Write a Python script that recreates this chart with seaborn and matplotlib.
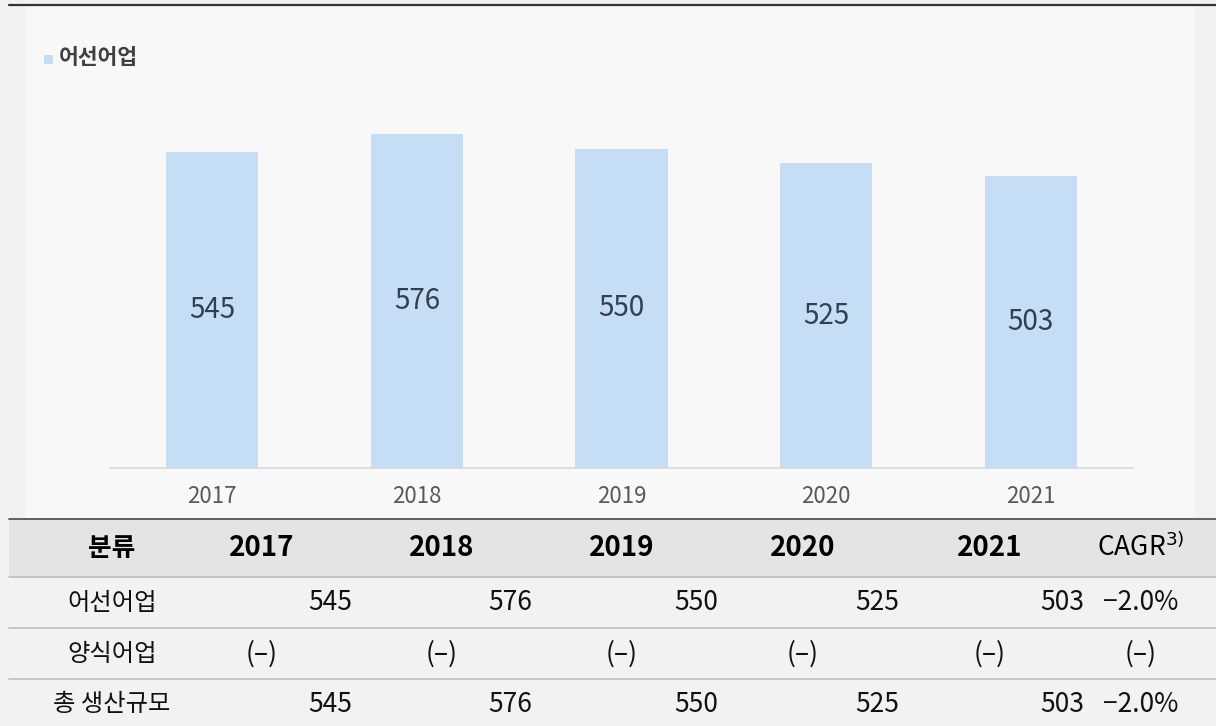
import numpy as np
import pandas as pd
import matplotlib
matplotlib.use('Agg')
import matplotlib.pyplot as plt
import seaborn as sns

years = ['2017', '2018', '2019', '2020', '2021']
fishing = [545, 576, 550, 525, 503]
row_names = ['어선어업', '양식어업', '총 생산규모']
row_fishing = ['545', '576', '550', '525', '503']
row_aqua = ['(–)', '(–)', '(–)', '(–)', '(–)']
row_total = ['545', '576', '550', '525', '503']
cagr = ['−2.0%', '(–)', '−2.0%']
legend_label = '어선어업'

sns.set_theme(style='white')
plt.rcParams['font.family'] = ['Noto Sans CJK KR', 'DejaVu Sans']

W, H = 1216, 726
fig = plt.figure(figsize=(W / 100, H / 100), dpi=100)
fig.patch.set_facecolor('#f2f2f2')


def fx(px):
    return px / W


def fy(py):
    return 1 - py / H


# chart panel background
fig.patches.append(plt.Rectangle((fx(26), fy(519)), fx(1195 - 26), (519 - 6) / H,
                                 transform=fig.transFigure, facecolor='#f8f8f8',
                                 edgecolor='none', zorder=-5))
fig.add_artist(plt.Line2D([fx(9), 1], [fy(5), fy(5)], color='#333333', lw=1.6))

# bar chart
ax = fig.add_axes([fx(110), fy(468), fx(1133 - 110), (468 - 80) / H])
ax.set_zorder(5)
ax.set_facecolor('none')
df = pd.DataFrame({'year': years, 'value': fishing})
sns.barplot(data=df, x='year', y='value', color='#c5def5', saturation=1,
            width=0.45, linewidth=0, ax=ax)
ax.set_xlim(-0.5, 4.5)
ax.set_ylim(0, (468 - 80) / 0.58)
for i, v in enumerate(fishing):
    ax.text(i, v / 2, str(v), ha='center', va='center', fontsize=20, color='#333f4f')
for s in ['top', 'right', 'left']:
    ax.spines[s].set_visible(False)
ax.spines['bottom'].set_color('#d9d9d9')
ax.spines['bottom'].set_linewidth(1.2)
ax.set_yticks([])
ax.set_xlabel('')
ax.set_ylabel('')
ax.tick_params(axis='x', length=0, pad=12, labelsize=16, labelcolor='#595959')

# legend
fig.patches.append(plt.Rectangle((fx(44), fy(64)), fx(9), 9 / H, transform=fig.transFigure,
                                 facecolor='#c5def5', edgecolor='none'))
fig.text(fx(59), fy(58), legend_label, fontsize=15.5, fontweight='bold', color='#404040',
         va='center', ha='left')

# table
fig.patches.append(plt.Rectangle((fx(9), fy(577)), 1 - fx(9), (577 - 519) / H,
                                 transform=fig.transFigure, facecolor='#e4e4e4',
                                 edgecolor='none'))
fig.add_artist(plt.Line2D([fx(9), 1], [fy(519), fy(519)], color='#555555', lw=1.3))
for yl in [577, 628, 679]:
    fig.add_artist(plt.Line2D([fx(9), 1], [fy(yl), fy(yl)], color='#bfbfbf', lw=1.2))

col_centers = [262, 442, 622, 803, 990]
col_rights = [352, 532, 718, 899, 1084]
hy = fy(548)
fig.text(fx(112), hy, '분류', ha='center', va='center', fontsize=18.5, fontweight='bold', color='black')
for c, yr in zip(col_centers, years):
    fig.text(fx(c), hy, yr, ha='center', va='center', fontsize=20, fontweight='bold', color='black')
fig.text(fx(1141), hy, 'CAGR$^{3)}$', ha='center', va='center', fontsize=19, color='black')

row_y = [603, 654, 704]
rows = [row_fishing, row_aqua, row_total]
for ri, (name, vals) in enumerate(zip(row_names, rows)):
    y = fy(row_y[ri])
    fig.text(fx(112), y, name, ha='center', va='center', fontsize=17.5, color='#111111')
    for ci, v in enumerate(vals):
        if v.startswith('('):
            fig.text(fx(col_centers[ci]), y, v, ha='center', va='center', fontsize=19, color='#111111')
        else:
            fig.text(fx(col_rights[ci]), y, v, ha='right', va='center', fontsize=19, color='#111111')
    fig.text(fx(1141), y, cagr[ri], ha='center', va='center', fontsize=19, color='#111111')

fig.savefig('out.png', dpi=100, facecolor=fig.get_facecolor())
